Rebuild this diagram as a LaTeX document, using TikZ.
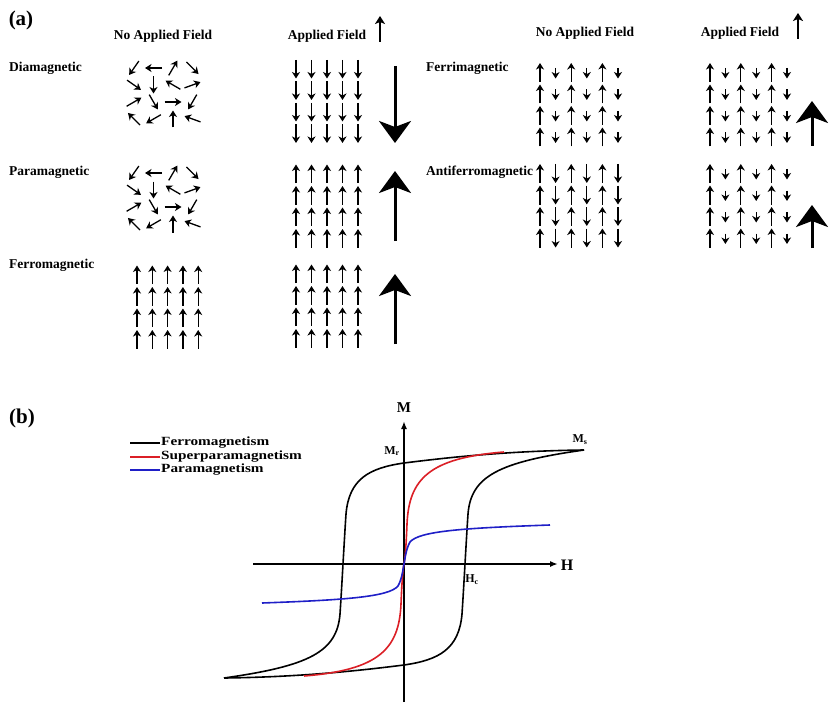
\documentclass[tikz,border=0pt]{standalone}
\usepackage{fontspec}
\usepackage{graphicx}
\setmainfont{Liberation Serif}
\usetikzlibrary{arrows.meta,calc}
\definecolor{loopred}{rgb}{0.86,0.12,0.15}
\definecolor{loopblue}{rgb}{0.12,0.12,0.78}
\newcommand{\widetext}[1]{\scalebox{1.22}[1]{#1}}

\tikzset{
  spin/.style={line width=1.3pt, -{Stealth[length=6.5pt,width=8pt,inset=2pt]}},
  bigspin/.style={line width=3pt, -{Stealth[length=22pt,width=32pt,inset=6pt]}},
  fieldarrow/.style={line width=1.6pt, -{Stealth[length=8pt,width=10pt,inset=2pt]}},
  lbl/.style={font=\bfseries\fontsize{13.5}{15}\selectfont, inner sep=0pt},
  leg/.style={font=\bfseries\fontsize{12.5}{13}\selectfont, inner sep=0pt, anchor=west},
  panel/.style={font=\bfseries\fontsize{21}{24}\selectfont, inner sep=0pt},
  curve/.style={line width=1.6pt},
  axis/.style={line width=1.6pt, -{Latex[length=8pt,width=6pt]}},
}

\begin{document}
\begin{tikzpicture}[x=1pt,y=-1pt]
\useasboundingbox (0,0) rectangle (830,706);
%		\draw[help lines, step=50] (0,0) grid (830,706);

% ---- (a) headers
\node[panel] (pa) at (21,20) {(a)};
\node[lbl] (noL) at (163,36) {No Applied Field};
\node[lbl] (apL) at (327,36) {Applied Field};
\draw[fieldarrow] (380,42) -- (380,16);
\node[lbl] (noR) at (585,33) {No Applied Field};
\node[lbl] (apR) at (740,33) {Applied Field};
\draw[fieldarrow] (798,39) -- (798,13);

% ---- row labels
\node[lbl, anchor=west] (dia) at (9,68) {Diamagnetic};
\node[lbl, anchor=west] (para) at (9,172) {Paramagnetic};
\node[lbl, anchor=west] (ferro) at (9,265) {Ferromagnetic};
\node[lbl, anchor=west] (ferri) at (426,68) {Ferrimagnetic};
\node[lbl, anchor=west] (afm) at (426,172) {Antiferromagnetic};

% ---- random moments (no field)
\foreach \y in {68,173}
  \foreach \c/\r/\a in {0/0/235,1/0/180,2/0/60,3/0/-45, 0/1/-35,1/1/270,2/1/150,3/1/20,
                        0/2/30,1/2/-60,2/2/0,3/2/240, 0/3/135,1/3/210,2/3/90,3/3/160}
    \draw[spin] ($(134+19.5*\c,\y+17*\r)+(180-\a:8.5)$) -- ++(-\a:17);

% ---- aligned moments
\foreach \i in {0,...,4} \foreach \j in {0,...,3} {
  \draw[spin] (296+15.5*\i,60+21.5*\j) -- ++(0,18.5);   % diamagnetic, field
  \draw[spin] (296+15.5*\i,183+21.5*\j) -- ++(0,-18.5); % paramagnetic, field
  \draw[spin] (296+15.5*\i,283+21.5*\j) -- ++(0,-18.5); % ferromagnetic, field
  \draw[spin] (137+15.3*\i,284+21.5*\j) -- ++(0,-18.5); % ferromagnetic
}
\draw[bigspin] (395,66) -- (395,143);
\draw[bigspin] (395,241) -- (395,171);
\draw[bigspin] (395,344) -- (395,274);

% ---- ferri / antiferro
\foreach \j in {0,...,3} {
  \foreach \i in {0,2,4} {
    \draw[spin] (540+15.6*\i,82+21.5*\j) -- ++(0,-19);
    \draw[spin] (540+15.6*\i,183+21.5*\j) -- ++(0,-19);
    \draw[spin] (710+15.4*\i,82+21.5*\j) -- ++(0,-19);
    \draw[spin] (710+15.4*\i,183+21.5*\j) -- ++(0,-19);
  }
  \foreach \i in {1,3,5} {
    \draw[spin] (540+15.6*\i,68+21.5*\j) -- ++(0,10.5);
    \draw[spin] (540+15.6*\i,164+21.5*\j) -- ++(0,19);
    \draw[spin] (710+15.4*\i,68+21.5*\j) -- ++(0,10.5);
    \draw[spin] (710+15.4*\i,169+21.5*\j) -- ++(0,10.5);
  }
}
\draw[bigspin] (812,146) -- (812,101);
\draw[bigspin] (812,248) -- (812,205);

% ---- (b) hysteresis
\node[panel] (pb) at (22,418) {(b)};
\draw[curve, line width=2pt] (130,443) -- (160,443);
\draw[curve, line width=2pt, loopred] (130,457) -- (160,457);
\draw[curve, line width=2pt, loopblue] (130,470) -- (160,470);
\node[leg] (lf) at (161,443) {\widetext{Ferromagnetism}};
\node[leg] (ls) at (161,457) {\widetext{Superparamagnetism}};
\node[leg] (lp) at (161,470) {\widetext{Paramagnetism}};

\coordinate (O) at (404,564);
\coordinate (hL) at (253,564);
\coordinate (hR) at (558,564);
\coordinate (mB) at (404,702);
\coordinate (mT) at (404,421);
\draw[axis] (hL) -- (hR);
\draw[axis] (mB) -- (mT);
\node[lbl, font=\bfseries\fontsize{16}{18}\selectfont] (H) at (567,565) {H};
\node[lbl, font=\bfseries\fontsize{15}{17}\selectfont] (M) at (404,408) {M};
\node[lbl, font=\bfseries\fontsize{12}{14}\selectfont] (Mr) at (392,451) {M\textsubscript{r}};
\node[lbl, font=\bfseries\fontsize{12}{14}\selectfont] (Ms) at (580,440) {M\textsubscript{s}};
\node[lbl, font=\bfseries\fontsize{12}{14}\selectfont] (Hc) at (472,580) {H\textsubscript{c}};

\begin{scope}[shift={(O)}, yscale=-1]
  \foreach \r in {0,180}
    \draw[curve, rotate=\r] (180,114) .. controls (100,113) and (40,106) .. (0,101)
      .. controls (-35,96) and (-55,85) .. (-58,50)
      .. controls (-60,20) and (-62,-20) .. (-64,-50)
      .. controls (-67,-88) and (-95,-102) .. (-180,-114);
  \draw[curve, loopred] (-100,-112) .. controls (-25,-106) and (-5,-85) .. (-3,-40)
      .. controls (-2,-15) and (-1,-5) .. (0,0) .. controls (1,5) and (2,15) .. (3,40)
      .. controls (5,85) and (25,106) .. (100,112);
  \draw[curve, loopblue] (-142,-39) .. controls (-60,-36) and (-15,-33) .. (-6,-22)
      .. controls (-2,-15) and (-1,-5) .. (0,0) .. controls (1,5) and (2,15) .. (6,22)
      .. controls (15,33) and (60,36) .. (146,39);
\end{scope}
\end{tikzpicture}
\end{document}
